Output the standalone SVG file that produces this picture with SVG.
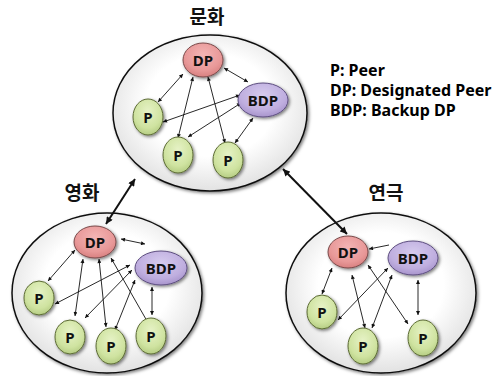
<svg xmlns="http://www.w3.org/2000/svg" width="499" height="376" viewBox="0 0 499 376">
<style>
.title{font-family:"Noto Sans CJK KR","Noto Sans",sans-serif;font-weight:bold;font-size:19px;fill:#111;text-anchor:middle}
.lbl{font-family:"Noto Sans","Open Sans",sans-serif;font-weight:bold;font-size:15px;fill:#111;text-anchor:middle}
.leg{font-family:"Noto Sans","Open Sans",sans-serif;font-weight:bold;font-size:16px;fill:#000}
.outer{fill:url(#gOuter);stroke:#111;stroke-width:1.5;filter:url(#sh)}
.dp{fill:url(#gDP);stroke:#7a4a4a;stroke-width:1;filter:url(#sh)}
.bdp{fill:url(#gBDP);stroke:#5e4f80;stroke-width:1;filter:url(#sh)}
.p{fill:url(#gP);stroke:#5c6b35;stroke-width:1;filter:url(#sh)}
.c{stroke:#111;stroke-width:0.9;fill:none;marker-start:url(#a);marker-end:url(#a)}
.c1{stroke:#111;stroke-width:0.9;fill:none;marker-end:url(#a)}
.ct{stroke:#111;stroke-width:2;fill:none;marker-start:url(#A);marker-end:url(#A)}
</style>
<defs>
<radialGradient id="gOuter" cx="50%" cy="45%" r="55%">
<stop offset="0.6" stop-color="#ffffff"/>
<stop offset="1" stop-color="#e2e2e2"/>
</radialGradient>
<radialGradient id="gDP" cx="50%" cy="35%" r="65%">
<stop offset="0" stop-color="#f3b5b5"/>
<stop offset="0.7" stop-color="#e89898"/>
<stop offset="1" stop-color="#d88080"/>
</radialGradient>
<radialGradient id="gBDP" cx="50%" cy="35%" r="65%">
<stop offset="0" stop-color="#d6cbee"/>
<stop offset="0.7" stop-color="#bfaedf"/>
<stop offset="1" stop-color="#a894cc"/>
</radialGradient>
<radialGradient id="gP" cx="50%" cy="35%" r="65%">
<stop offset="0" stop-color="#e6f2c6"/>
<stop offset="0.7" stop-color="#cfe3a0"/>
<stop offset="1" stop-color="#b6cd84"/>
</radialGradient>
<filter id="sh" x="-20%" y="-20%" width="140%" height="140%">
<feDropShadow dx="1.5" dy="1.5" stdDeviation="1.5" flood-color="#000" flood-opacity="0.5"/>
</filter>
<marker id="a" viewBox="0 0 10 10" refX="10" refY="5" markerUnits="userSpaceOnUse" markerWidth="5" markerHeight="4" orient="auto-start-reverse">
<path d="M0,0 L10,5 L0,10 z" fill="#111"/>
</marker>
<marker id="A" viewBox="0 0 10 10" refX="10" refY="5" markerUnits="userSpaceOnUse" markerWidth="8" markerHeight="7" orient="auto-start-reverse">
<path d="M0,0 L10,5 L0,10 z" fill="#111"/>
</marker>
</defs>
<rect width="499" height="376" fill="#fff"/>

<g id="cluster-munhwa">
<ellipse class="outer" cx="210" cy="113" rx="97" ry="78"/>
<text class="title" x="207" y="24">문화</text>
</g>
<g id="cluster-yeonghwa">
<ellipse class="outer" cx="107" cy="293" rx="95" ry="80"/>
<text class="title" x="82" y="200">영화</text>
</g>
<g id="cluster-yeongeuk">
<ellipse class="outer" cx="381" cy="293" rx="95" ry="80"/>
<text class="title" x="386" y="200">연극</text>
</g>

<g id="connectors">
<line class="ct" x1="135" y1="179" x2="106" y2="224"/>
<line class="ct" x1="283" y1="169" x2="347" y2="234"/>
<!-- top -->
<line class="c" x1="183" y1="74" x2="158" y2="102"/>
<line class="c" x1="193" y1="77" x2="178" y2="138"/>
<line class="c" x1="208" y1="77" x2="225" y2="143"/>
<line class="c" x1="224" y1="68" x2="248" y2="82"/>
<line class="c" x1="240" y1="95" x2="163" y2="122"/>
<line class="c" x1="241" y1="103" x2="188" y2="137"/>
<line class="c" x1="253" y1="118" x2="235" y2="143"/>
<!-- left -->
<line class="c" x1="121" y1="239" x2="145" y2="244"/>
<line class="c" x1="75" y1="250" x2="48" y2="281"/>
<line class="c" x1="83" y1="259" x2="75" y2="316"/>
<line class="c" x1="99" y1="259" x2="106" y2="327"/>
<line class="c1" x1="147" y1="321" x2="111" y2="258"/>
<line class="c" x1="130" y1="265" x2="55" y2="304"/>
<line class="c" x1="132" y1="270" x2="85" y2="318"/>
<line class="c" x1="135" y1="280" x2="115" y2="330"/>
<line class="c" x1="152" y1="287" x2="152" y2="315"/>
<!-- right -->
<line class="c1" x1="389" y1="245" x2="369" y2="249"/>
<line class="c" x1="332" y1="268" x2="322" y2="294"/>
<line class="c" x1="352" y1="275" x2="365" y2="328"/>
<line class="c" x1="368" y1="265" x2="408" y2="324"/>
<line class="c" x1="388" y1="268" x2="338" y2="320"/>
<line class="c" x1="392" y1="275" x2="372" y2="328"/>
<line class="c" x1="418" y1="280" x2="418" y2="315"/>
</g>

<g id="top-dp"><ellipse class="dp" cx="203" cy="60" rx="20" ry="17"/><text class="lbl" x="203" y="65.5">DP</text></g>
<g id="top-bdp"><ellipse class="bdp" cx="263" cy="100" rx="25" ry="17"/><text class="lbl" x="263" y="105.5">BDP</text></g>
<g id="top-p1"><ellipse class="p" cx="148" cy="117" rx="15" ry="18"/><text class="lbl" x="148" y="122.5">P</text></g>
<g id="top-p2"><ellipse class="p" cx="178" cy="155" rx="15" ry="18"/><text class="lbl" x="178" y="160.5">P</text></g>
<g id="top-p3"><ellipse class="p" cx="228" cy="160" rx="15" ry="18"/><text class="lbl" x="228" y="165.5">P</text></g>

<g id="left-dp"><ellipse class="dp" cx="95" cy="242" rx="21" ry="16"/><text class="lbl" x="95" y="247.5">DP</text></g>
<g id="left-bdp"><ellipse class="bdp" cx="161" cy="268" rx="26" ry="17"/><text class="lbl" x="161" y="273.5">BDP</text></g>
<g id="left-p1"><ellipse class="p" cx="39" cy="298" rx="15" ry="17"/><text class="lbl" x="39" y="303.5">P</text></g>
<g id="left-p2"><ellipse class="p" cx="70" cy="337" rx="15" ry="17"/><text class="lbl" x="70" y="342.5">P</text></g>
<g id="left-p3"><ellipse class="p" cx="111" cy="346" rx="15" ry="18"/><text class="lbl" x="111" y="351.5">P</text></g>
<g id="left-p4"><ellipse class="p" cx="151" cy="336" rx="15" ry="18"/><text class="lbl" x="151" y="341.5">P</text></g>

<g id="right-dp"><ellipse class="dp" cx="348" cy="252" rx="20" ry="16"/><text class="lbl" x="348" y="257.5">DP</text></g>
<g id="right-bdp"><ellipse class="bdp" cx="413" cy="258" rx="25" ry="17"/><text class="lbl" x="413" y="263.5">BDP</text></g>
<g id="right-p1"><ellipse class="p" cx="322" cy="312" rx="15" ry="17"/><text class="lbl" x="322" y="317.5">P</text></g>
<g id="right-p2"><ellipse class="p" cx="363" cy="346" rx="15" ry="18"/><text class="lbl" x="363" y="351.5">P</text></g>
<g id="right-p3"><ellipse class="p" cx="423" cy="338" rx="15" ry="18"/><text class="lbl" x="423" y="343.5">P</text></g>

<g id="legend">
<text class="leg" x="330" y="76">P: Peer</text>
<text class="leg" x="330" y="96">DP: Designated Peer</text>
<text class="leg" x="330" y="116">BDP: Backup DP</text>
</g>
</svg>
